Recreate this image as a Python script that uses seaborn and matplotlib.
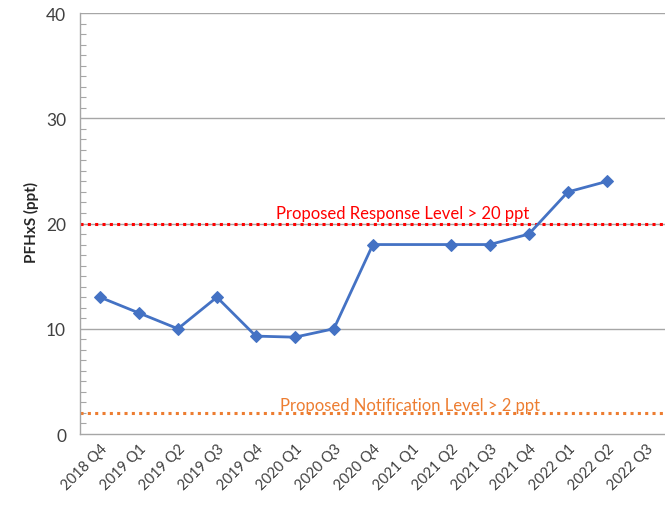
import matplotlib
matplotlib.use("Agg")
import matplotlib.pyplot as plt
from matplotlib.ticker import MultipleLocator
import seaborn as sns
import pandas as pd
import numpy as np

quarters = ["2018 Q4", "2019 Q1", "2019 Q2", "2019 Q3", "2019 Q4", "2020 Q1",
            "2020 Q3", "2020 Q4", "2021 Q1", "2021 Q2", "2021 Q3", "2021 Q4",
            "2022 Q1", "2022 Q2", "2022 Q3"]
pfhxs = [13.0, 11.5, 10.0, 13.0, 9.3, 9.2, 10.0, 18.0, np.nan, 18.0, 18.0, 19.0,
         23.0, 24.0, np.nan]
response_level = 20
notification_level = 2
response_label = "Proposed Response Level > 20 ppt"
notification_label = "Proposed Notification Level > 2 ppt"

sns.set_theme(style="white")
plt.rcParams['font.family'] = ['Lato', 'DejaVu Sans']

df = pd.DataFrame({"quarter": quarters, "value": pfhxs})
df["pos"] = pd.Categorical(df["quarter"], categories=quarters, ordered=True).codes
df = df.dropna()

fig = plt.figure(figsize=(6.65, 5.06), dpi=100)
ax = fig.add_axes([80/665, 1-435/506, 585/665, (435-14)/506])

grid_c = "#A6A6A6"
for yv in [10, 20, 30, 40]:
    ax.axhline(yv, color=grid_c, lw=1.0, zorder=0)

ax.axhline(response_level, color="#FF0000", lw=2.2, ls=(0, (1, 1.4)), zorder=2)
ax.axhline(notification_level, color="#ED7D31", lw=2.2, ls=(0, (1, 1.4)), zorder=2)

sns.lineplot(data=df, x="pos", y="value", ax=ax, color="#4472C4", lw=2,
             marker="D", markersize=6.5, markeredgecolor="#4472C4", zorder=3)

ax.text(7.75, 21.0, response_label, color="#FF0000", fontsize=12,
        ha="center", va="center")
ax.text(7.95, 2.8, notification_label, color="#ED7D31", fontsize=12,
        ha="center", va="center")

ax.set_xlim(-0.51, 14.49)
ax.set_ylim(0, 40)
ax.set_xticks(range(len(quarters)))
ax.set_xticklabels(quarters, rotation=45, ha="right", rotation_mode="anchor",
                   fontsize=10.5)
ax.set_yticks([0, 10, 20, 30, 40])
ax.yaxis.set_minor_locator(MultipleLocator(1))
ax.tick_params(axis="y", which="major", length=0, labelsize=12.5, pad=10,
               labelcolor="#404040")
ax.tick_params(axis="y", which="minor", left=True, direction="in", length=4,
               color=grid_c, width=0.8)
ax.tick_params(axis="x", length=0, pad=5, labelcolor="#404040")
ax.set_xlabel("")
ax.set_ylabel("PFHxS (ppt)", fontsize=11, fontweight="bold")
ax.yaxis.set_label_coords(-41/585, 0.505)

for s in ["top", "right"]:
    ax.spines[s].set_visible(False)
for s in ["left", "bottom"]:
    ax.spines[s].set_color(grid_c)
    ax.spines[s].set_linewidth(1.0)

fig.savefig("out.png", dpi=100)
